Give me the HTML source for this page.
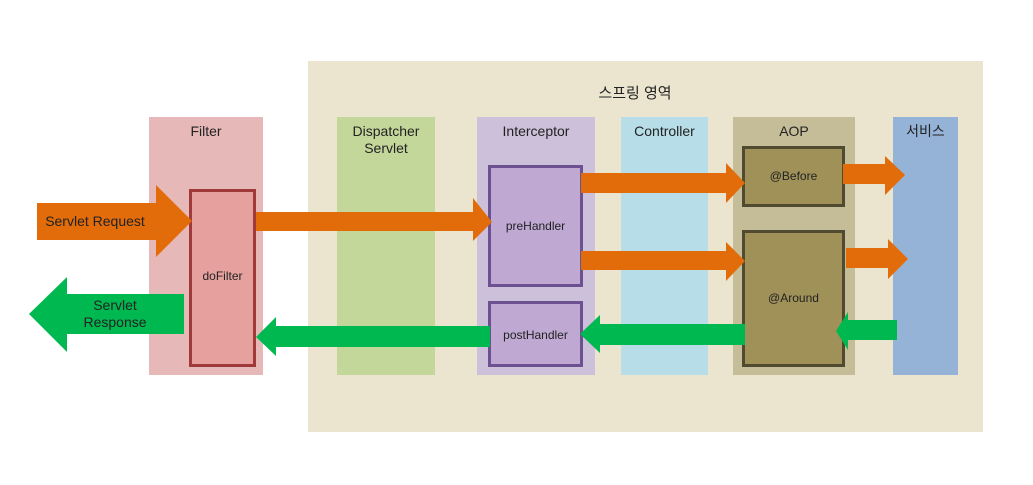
<!DOCTYPE html>
<html><head><meta charset="utf-8"><style>
body{margin:0;width:1033px;height:485px;background:#fff;position:relative;overflow:hidden;font-family:"Liberation Sans","Noto Sans CJK KR",sans-serif;}
.b{position:absolute;box-sizing:border-box;}
.t{position:absolute;text-align:center;font-size:14px;color:#222;line-height:17px;}
</style></head><body>
<div class="b" style="left:308px;top:61px;width:675px;height:371px;background:#EBE5D0;"></div>
<div class="t" style="left:560px;top:85px;width:150px;font-size:15px;">스프링 영역</div>
<div class="b" style="left:149px;top:117px;width:114px;height:258px;background:#E6B9B8;"></div>
<div class="b" style="left:337px;top:117px;width:98px;height:258px;background:#C4D79B;"></div>
<div class="b" style="left:477px;top:117px;width:118px;height:258px;background:#CCC0DA;"></div>
<div class="b" style="left:621px;top:117px;width:87px;height:258px;background:#B7DEE8;"></div>
<div class="b" style="left:733px;top:117px;width:122px;height:258px;background:#C4BD97;"></div>
<div class="b" style="left:893px;top:117px;width:65px;height:258px;background:#95B3D7;"></div>
<div class="t" style="left:149px;top:123px;width:114px;">Filter</div>
<div class="t" style="left:337px;top:123px;width:98px;">Dispatcher<br>Servlet</div>
<div class="t" style="left:477px;top:123px;width:118px;">Interceptor</div>
<div class="t" style="left:621px;top:123px;width:87px;">Controller</div>
<div class="t" style="left:733px;top:123px;width:122px;">AOP</div>
<div class="t" style="left:893px;top:123px;width:65px;">서비스</div>
<div class="b" style="left:189px;top:189px;width:67px;height:178px;background:#E6A09E;border:3px solid #A0393A;"></div>
<div class="t" style="left:189px;top:268px;width:67px;font-size:12px;">doFilter</div>
<div class="b" style="left:488px;top:165px;width:95px;height:122px;background:#BFA9D3;border:3px solid #6C5190;"></div>
<div class="t" style="left:488px;top:218px;width:95px;font-size:12px;">preHandler</div>
<div class="b" style="left:488px;top:301px;width:95px;height:66px;background:#BFA9D3;border:3px solid #6C5190;"></div>
<div class="b" style="left:742px;top:146px;width:103px;height:61px;background:#A09158;border:3px solid #4F4A30;"></div>
<div class="t" style="left:742px;top:168px;width:103px;font-size:12px;">@Before</div>
<div class="b" style="left:742px;top:230px;width:103px;height:137px;background:#A09158;border:3px solid #4F4A30;"></div>
<div class="t" style="left:742px;top:290px;width:103px;font-size:12px;">@Around</div>
<svg class="b" style="left:0;top:0" width="1033" height="485">
<g fill="#E36C0A">
<polygon points="37,203 156,203 156,185 192,221 156,257 156,240 37,240"/>
<polygon points="256,212 473,212 473,198 492,222 473,241 473,231 256,231"/>
<polygon points="581,173 726,173 726,163 745,183 726,203 726,193 581,193"/>
<polygon points="581,251 726,251 726,242 745,261 726,281 726,270 581,270"/>
<polygon points="843,164 885,164 885,156 905,175 885,195 885,184 843,184"/>
<polygon points="846,248 888,248 888,239 908,259 888,279 888,268 846,268"/>
</g>
<g fill="#00B850">
<polygon points="897,320 848,320 848,312 836,331 848,350 848,340 897,340"/>
<polygon points="745,324 600,324 600,315 580,334 600,353 600,345 745,345"/>
<polygon points="490,326 276,326 276,317 256,337 276,356 276,347 490,347"/>
<polygon points="184,294 67,294 67,277 29,314 67,352 67,334 184,334"/>
</g>
</svg>
<div class="t" style="left:488px;top:327px;width:95px;font-size:12px;">postHandler</div>
<div class="t" style="left:40px;top:213px;width:110px;">Servlet Request</div>
<div class="t" style="left:60px;top:297px;width:110px;">Servlet<br>Response</div>
</body></html>
